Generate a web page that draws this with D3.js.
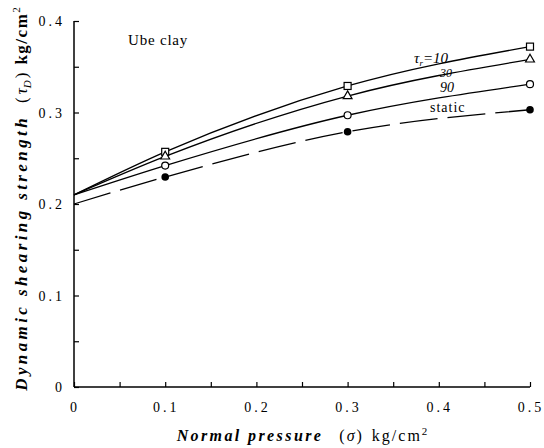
<!DOCTYPE html>
<html><head><meta charset="utf-8">
<script src="https://cdn.jsdelivr.net/npm/d3@7/dist/d3.min.js"></script>
<style>body{margin:0;background:#fff}</style>
</head><body>
<svg id="c" width="544" height="448"></svg>
<script>
const pressures = [0, 0.1, 0.3, 0.5];
const tau10 = [0.21, 0.257, 0.329, 0.372];
const tau30 = [0.21, 0.252, 0.318, 0.358];
const tau90 = [0.21, 0.242, 0.297, 0.331];
const staticVals = [0.20, 0.2295, 0.279, 0.303];
const xTicks = [0, 0.1, 0.2, 0.3, 0.4, 0.5];
const yTicks = [0, 0.1, 0.2, 0.3, 0.4];
const xTickLabels = ["0", "0.1", "0.2", "0.3", "0.4", "0.5"];
const yTickLabels = ["0", "0.1", "0.2", "0.3", "0.4"];

const svg = d3.select("#c");
const x = d3.scaleLinear().domain([0, 0.5]).range([74, 530]);
const y = d3.scaleLinear().domain([0, 0.4]).range([387, 21]);
const serif = "'Liberation Serif','DejaVu Serif',serif";

// axes
const xAxis = d3.axisBottom(x).tickValues(d3.range(0, 0.5001, 0.05)).tickSize(-5).tickFormat("");
const yAxis = d3.axisLeft(y).tickValues(d3.range(0, 0.4001, 0.05)).tickSize(-5).tickFormat("");
const gx = svg.append("g").attr("transform", `translate(0,${y(0)})`).call(xAxis);
const gy = svg.append("g").attr("transform", `translate(${x(0)},0)`).call(yAxis);
[gx, gy].forEach(g => {
  g.select(".domain").remove();
  g.selectAll(".tick line").attr("stroke", "#000").attr("stroke-width", 1.2);
});
svg.append("line").attr("x1", x(0)).attr("x2", x(0.5)).attr("y1", y(0)).attr("y2", y(0)).attr("stroke", "#000").attr("stroke-width", 1.5);
svg.append("line").attr("x1", x(0)).attr("x2", x(0)).attr("y1", y(0)).attr("y2", y(0.4)).attr("stroke", "#000").attr("stroke-width", 1.5);

// tick labels
svg.selectAll(".xl").data(xTicks).enter().append("text")
  .attr("x", d => x(d) + 1).attr("y", 412).attr("text-anchor", "middle")
  .attr("font-family", serif).attr("font-size", 14).attr("letter-spacing", 3)
  .text((d, i) => xTickLabels[i]);
svg.selectAll(".yl").data(yTicks).enter().append("text")
  .attr("x", 65).attr("y", d => y(d) + 5).attr("text-anchor", "end")
  .attr("font-family", serif).attr("font-size", 14).attr("letter-spacing", 3)
  .text((d, i) => yTickLabels[i]);

// series
const series = [
  {vals: tau10, marker: "square", dash: null},
  {vals: tau30, marker: "triangle", dash: null},
  {vals: tau90, marker: "circle", dash: null},
  {vals: staticVals, marker: "dot", dash: "38,10"}
];
const line = d3.line().x(d => x(d[0])).y(d => y(d[1])).curve(d3.curveMonotoneX);
series.forEach(s => {
  const pts = pressures.map((p, i) => [p, s.vals[i]]);
  svg.append("path").attr("d", line(pts)).attr("fill", "none")
    .attr("stroke", "#000").attr("stroke-width", 1.3)
    .attr("stroke-dasharray", s.dash);
  const mp = pts.slice(1);
  mp.forEach(p => {
    const cx = x(p[0]), cy = y(p[1]);
    if (s.marker === "square") {
      svg.append("rect").attr("x", cx - 3.5).attr("y", cy - 3.5).attr("width", 7).attr("height", 7)
        .attr("fill", "#fff").attr("stroke", "#000").attr("stroke-width", 1.2);
    } else if (s.marker === "triangle") {
      svg.append("path").attr("d", d3.symbol(d3.symbolTriangle, 34)()).attr("transform", `translate(${cx},${cy})`)
        .attr("fill", "#fff").attr("stroke", "#000").attr("stroke-width", 1.2);
    } else if (s.marker === "circle") {
      svg.append("circle").attr("cx", cx).attr("cy", cy).attr("r", 3.5)
        .attr("fill", "#fff").attr("stroke", "#000").attr("stroke-width", 1.2);
    } else {
      svg.append("circle").attr("cx", cx).attr("cy", cy).attr("r", 3.8)
        .attr("fill", "#000");
    }
  });
});

// curve labels
const lab = (lx, ly, size) => svg.append("text").attr("x", lx).attr("y", ly)
  .attr("font-family", serif).attr("font-style", "italic").attr("font-size", size);
const t10 = lab(414, 63, 15);
t10.append("tspan").text("τ");
t10.append("tspan").attr("font-size", 9).attr("dy", 3).text("r");
t10.append("tspan").attr("dy", -3).text("=10");
lab(440, 77, 12).text("30");
lab(440, 92, 14).text("90");
svg.append("text").attr("x", 430).attr("y", 112).attr("font-family", serif).attr("font-size", 14)
  .attr("letter-spacing", 1).text("static");

// Ube clay
svg.append("text").attr("x", 128).attr("y", 45).attr("font-family", serif).attr("font-size", 15)
  .attr("letter-spacing", 0.8).text("Ube clay");

// y title
const yt = svg.append("text").attr("transform", "translate(27,199) rotate(-90)")
  .attr("text-anchor", "middle").attr("font-family", serif).attr("font-size", 17);
yt.append("tspan").attr("font-style", "italic").attr("font-weight", "bold").attr("letter-spacing", 3.4).text("Dynamic shearing strength");
yt.append("tspan").attr("dx", 12).text("(");
yt.append("tspan").attr("dx", 3).attr("font-style", "italic").text("τ");
yt.append("tspan").attr("font-style", "italic").attr("font-size", 11).attr("dy", 4).text("D");
yt.append("tspan").attr("dy", -4).attr("dx", 2).text(")");
yt.append("tspan").attr("dx", 8).attr("font-weight", "bold").attr("letter-spacing", 1.5).text("kg/cm");
yt.append("tspan").attr("font-size", 11).attr("dy", -7).text("2");

// x title
const xt = svg.append("text").attr("x", 302).attr("y", 441).attr("text-anchor", "middle")
  .attr("font-family", serif).attr("font-size", 16);
xt.append("tspan").attr("font-style", "italic").attr("font-weight", "bold").attr("letter-spacing", 2.4).text("Normal pressure");
xt.append("tspan").attr("dx", 16).text("(");
xt.append("tspan").attr("dx", 2).attr("font-style", "italic").text("σ");
xt.append("tspan").attr("dx", 2).text(")");
xt.append("tspan").attr("dx", 10).attr("letter-spacing", 2).text("kg/cm");
xt.append("tspan").attr("font-size", 11).attr("dy", -6).text("2");
</script>
</body></html>
